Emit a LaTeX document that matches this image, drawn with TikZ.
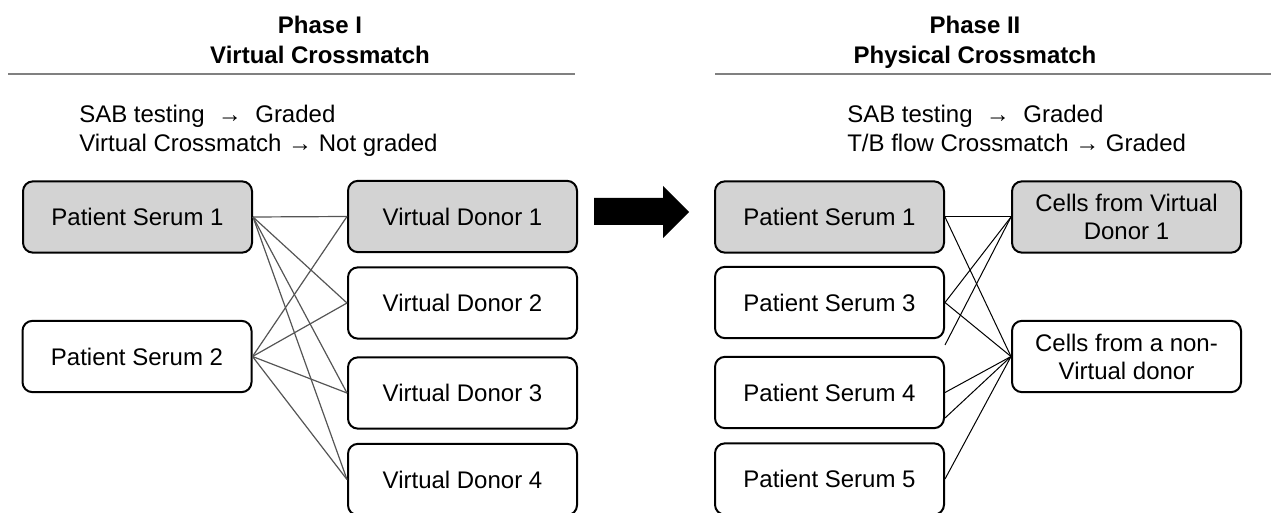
\documentclass[tikz,border=0pt]{standalone}
\usepackage{fontspec}
\setmainfont{Liberation Sans}
\definecolor{boxgray}{RGB}{211,211,211}
\definecolor{conngray}{RGB}{85,85,85}
\definecolor{sepgray}{RGB}{128,128,128}
\begin{document}
\begin{tikzpicture}[x=0.75pt,y=-0.75pt,
  box/.style={draw=black, line width=1.5pt, rounded corners=7.5pt,
    minimum width=171.75pt, minimum height=53.5pt, align=center, inner sep=0pt,
    font=\fontsize{18}{21}\selectfont},
  shaded/.style={box, fill=boxgray},
  hdr/.style={inner sep=0pt, anchor=base, font=\fontsize{18}{21}\selectfont\bfseries},
  ruletxt/.style={inner sep=0pt, anchor=base west, font=\fontsize{18}{21}\selectfont},
  lconn/.style={draw=conngray, line width=0.9pt},
  rconn/.style={draw=black, line width=0.75pt},
  sepline/.style={draw=sepgray, line width=1.6pt},
  bigarrow/.style={fill=black, draw=none}]
\useasboundingbox (0,0) rectangle (1271,513);

% headings
\node[hdr] (h1a) at (320,33.5) {Phase I};
\node[hdr] (h1b) at (320,63.5) {Virtual Crossmatch};
\node[hdr] (h2a) at (975,33.5) {Phase II};
\node[hdr] (h2b) at (975,63.5) {Physical Crossmatch};

\coordinate (s1a) at (8,74);
\coordinate (s1b) at (575,74);
\coordinate (s2a) at (715,74);
\coordinate (s2b) at (1271,74);
\draw[sepline] (s1a) -- (s1b);
\draw[sepline] (s2a) -- (s2b);

% rule texts
\node[ruletxt] (r1a) at (79,123) {SAB testing\ \ →\ \ Graded};
\node[ruletxt] (r1b) at (79,152) {Virtual Crossmatch → Not graded};
\node[ruletxt] (r2a) at (847,123) {SAB testing\ \ →\ \ Graded};
\node[ruletxt] (r2b) at (847,152) {T/B flow Crossmatch → Graded};

% phase I boxes
\node[shaded] (lp1) at (137.5,217) {Patient Serum 1};
\node[box] (lp2) at (137,356.5) {Patient Serum 2};
\node[shaded] (v1) at (462.5,216.5) {Virtual Donor 1};
\node[box] (v2) at (462.5,303) {Virtual Donor 2};
\node[box] (v3) at (462.5,393) {Virtual Donor 3};
\node[box] (v4) at (462.5,479.5) {Virtual Donor 4};

% phase II boxes
\node[shaded] (rp1) at (829.5,217) {Patient Serum 1};
\node[box] (rp3) at (829.5,302.5) {Patient Serum 3};
\node[box] (rp4) at (829.5,392.5) {Patient Serum 4};
\node[box] (rp5) at (829.5,479) {Patient Serum 5};
\node[shaded] (c1) at (1126.5,217) {Cells from Virtual\\Donor 1};
\node[box] (c2) at (1126.5,356.5) {Cells from a non-\\Virtual donor};

% big arrow
\fill[bigarrow] (594,198) -- (663,198) -- (663,186) -- (689,212) -- (663,238) -- (663,225) -- (594,225) -- cycle;

% phase I connectors
\foreach \t in {v1,v2,v3,v4} {
  \draw[lconn] (lp1.east) -- (\t.west);
  \draw[lconn] (lp2.east) -- (\t.west);
}

% phase II connectors
\coordinate (stray) at (945,345);
\coordinate (rp4low) at (945,418);
\draw[rconn] (rp1.east) -- (c1.west);
\draw[rconn] (rp1.east) -- (c2.west);
\draw[rconn] (rp3.east) -- (c1.west);
\draw[rconn] (rp3.east) -- (c2.west);
\draw[rconn] (stray) -- (c1.west);
\draw[rconn] (rp4.east) -- (c2.west);
\draw[rconn] (rp4low) -- (c2.west);
\draw[rconn] (rp5.east) -- (c2.west);
\end{tikzpicture}
\end{document}
